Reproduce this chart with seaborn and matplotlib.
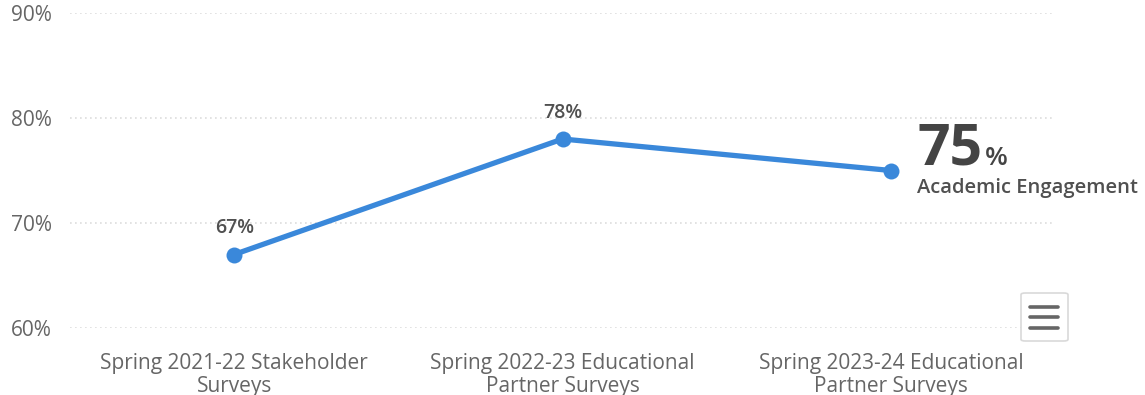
import matplotlib
matplotlib.use("Agg")
import matplotlib.pyplot as plt
import seaborn as sns
import pandas as pd
from matplotlib.patches import FancyBboxPatch
from matplotlib.lines import Line2D

# Survey periods and engagement share (%)
categories = [
    "Spring 2021-22 Stakeholder\nSurveys",
    "Spring 2022-23 Educational\nPartner Surveys",
    "Spring 2023-24 Educational\nPartner Surveys",
]
engagement = [67, 78, 75]
y_ticks = [60, 70, 80, 90]
series_name = "Academic Engagement"

df = pd.DataFrame({"period": categories, "value": engagement})

sns.set_theme(style="white")
plt.rcParams["font.family"] = ["Open Sans", "DejaVu Sans"]

BLUE = "#3a88da"
TEXT = "#505050"
TICK = "#666666"

fig = plt.figure(figsize=(11.45, 3.95), dpi=100)
ax = fig.add_axes([70 / 1145, 1 - 328 / 395, 985 / 1145, 315 / 395])

sns.lineplot(data=df, x="period", y="value", ax=ax, color=BLUE, linewidth=3.8,
             marker="o", markersize=11.5, markeredgewidth=0, sort=False)

ax.set_xlim(-0.5, len(categories) - 0.5)
ax.set_ylim(60, 90)
ax.set_yticks(y_ticks)
ax.set_yticklabels([f"{t}%" for t in y_ticks])
ax.set_xlabel("")
ax.set_ylabel("")

for t in y_ticks:
    ax.axhline(t, color="#dddddd", linewidth=1.2, linestyle=(0, (1, 2)), zorder=0)

for s in ax.spines.values():
    s.set_visible(False)

ax.tick_params(axis="y", length=0, pad=13, labelsize=15, labelcolor=TICK)
ax.tick_params(axis="x", length=0, pad=18, labelsize=15, labelcolor=TICK)
for lab in ax.get_xticklabels():
    lab.set_linespacing(1.12)

# value labels above the first points
for i, v in enumerate(engagement[:-1]):
    ax.annotate(f"{v}%", (i, v), xytext=(0, 19), textcoords="offset points",
                ha="center", va="center", fontsize=14, color=TEXT, fontweight="semibold")

# last point: large value with series name
last_i = len(engagement) - 1
last_v = engagement[-1]
big = ax.annotate(f"{last_v}", (last_i, last_v), xytext=(19, 4), textcoords="offset points",
                  ha="left", va="baseline", fontsize=41, color="#444444", fontweight="bold")
ax.annotate("%", xy=(1, 0), xycoords=big, xytext=(2, 9.7), textcoords="offset points",
            ha="left", va="baseline", fontsize=19, color="#444444", fontweight="semibold")
ax.annotate(series_name, (last_i, last_v), xytext=(19, -12.6), textcoords="offset points",
            ha="left", va="center", fontsize=14.5, color=TEXT, fontweight="semibold")

# menu button
W, H = 1145, 395
box = FancyBboxPatch((1021 / W, 1 - 341 / H), 47 / W, 48 / H,
                     boxstyle="round,pad=0,rounding_size=0.004",
                     transform=fig.transFigure, facecolor="white",
                     edgecolor="#d9d9d9", linewidth=1.2)
fig.patches.append(box)
for yy in (307, 317, 328):
    fig.lines.append(Line2D([1030 / W, 1058 / W], [1 - yy / H, 1 - yy / H],
                            transform=fig.transFigure, color="#666666",
                            linewidth=2.6, solid_capstyle="round"))

fig.savefig("out.png", dpi=100, facecolor="white")
